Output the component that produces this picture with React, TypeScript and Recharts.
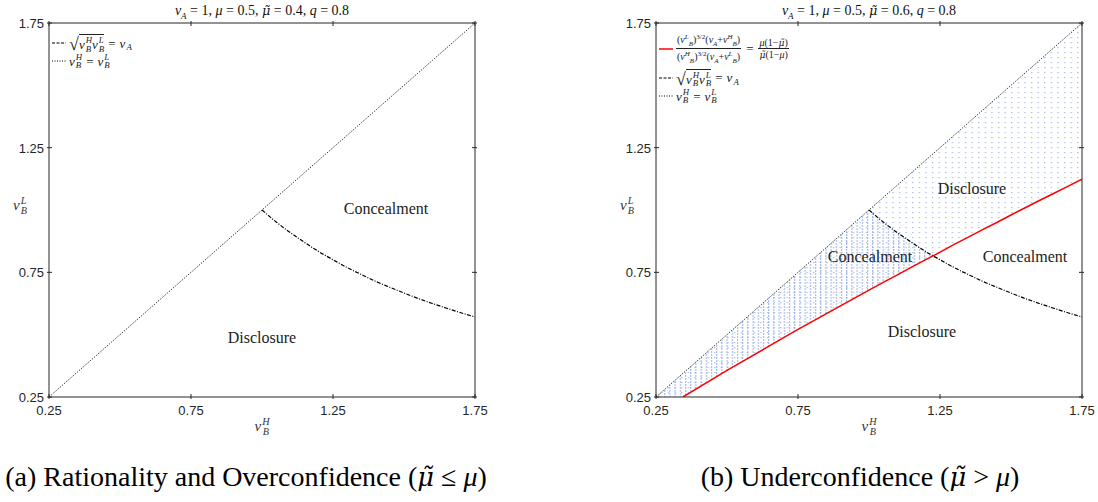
import React from "react";
import {
  Area,
  ComposedChart,
  Line,
  XAxis,
  YAxis,
} from "recharts";

// sample points along v_B^H
const hGrid = [
  0.25, 0.345, 0.5, 0.75, 1.0, 1.05, 1.1, 1.15, 1.2, 1.226, 1.3, 1.35, 1.4,
  1.45, 1.5, 1.55, 1.6, 1.65, 1.7, 1.75,
];
// v_B^H = v_B^L
const diagonal = [
  0.25, 0.345, 0.5, 0.75, 1.0, 1.05, 1.1, 1.15, 1.2, 1.226, 1.3, 1.35, 1.4,
  1.45, 1.5, 1.55, 1.6, 1.65, 1.7, 1.75,
];
// sqrt(v_B^H v_B^L) = v_A
const sqrtCurve = [
  null, null, null, null, 1.0, 0.952, 0.909, 0.87, 0.833, 0.816, 0.769, 0.741,
  0.714, 0.69, 0.667, 0.645, 0.625, 0.606, 0.588, 0.571,
];
// red boundary for panel (b)
const redBoundary = [
  null, 0.25, 0.357, 0.521, 0.679, 0.71, 0.74, 0.771, 0.801, 0.816, 0.862,
  0.891, 0.921, 0.95, 0.98, 1.009, 1.038, 1.066, 1.095, 1.124,
];

const ticks = [0.25, 0.75, 1.25, 1.75];
const AXIS = "#262626";
const MATH = "'Liberation Serif', 'DejaVu Serif', serif";

type Row = {
  h: number;
  diag: number;
  curve: number | null;
  red: number | null;
  shade: [number, number] | null;
  conceal: [number, number] | null;
};

const rows: Row[] = hGrid.map((h, i) => {
  const low = Math.max(0.25, redBoundary[i] ?? 0.25);
  const c = sqrtCurve[i];
  const top = c == null ? diagonal[i] : Math.min(diagonal[i], c);
  return {
    h,
    diag: diagonal[i],
    curve: c,
    red: redBoundary[i],
    shade: [low, diagonal[i]],
    conceal: h <= 1.226 ? [low, Math.max(low, top)] : null,
  };
});

const BottomTick = (p: any) => (
  <g>
    <line x1={p.x} y1={p.y} x2={p.x} y2={p.y - 5} stroke={AXIS} />
    <text
      x={p.x}
      y={p.y + 16}
      textAnchor="middle"
      fontSize={13}
      fontFamily="'Liberation Sans', Arial, sans-serif"
      fill={AXIS}
    >
      {p.payload.value.toFixed(2)}
    </text>
  </g>
);

const LeftTick = (p: any) => (
  <g>
    <line x1={p.x} y1={p.y} x2={p.x + 5} y2={p.y} stroke={AXIS} />
    <text
      x={p.x - 3}
      y={p.y + 5}
      textAnchor="end"
      fontSize={13}
      fontFamily="'Liberation Sans', Arial, sans-serif"
      fill={AXIS}
    >
      {p.payload.value.toFixed(2)}
    </text>
  </g>
);

const TopTick = (p: any) => (
  <line x1={p.x} y1={p.y} x2={p.x} y2={p.y + 5} stroke={AXIS} />
);
const RightTick = (p: any) => (
  <line x1={p.x} y1={p.y} x2={p.x - 5} y2={p.y} stroke={AXIS} />
);

// mu with a tilde accent (DejaVu places the combining mark properly)
function MuT() {
  return (
    <i style={{ fontFamily: "'DejaVu Serif', serif", fontSize: "0.92em" }}>
      {"\u03bc\u0303"}
    </i>
  );
}

function V({ base, sup, sub }: { base: string; sup?: string; sub?: string }) {
  return (
    <span style={{ display: "inline-flex", alignItems: "center", verticalAlign: "middle" }}>
      <i>{base}</i>
      <span
        style={{
          display: "inline-flex",
          flexDirection: "column",
          fontSize: "0.68em",
          lineHeight: 0.95,
          fontStyle: "italic",
          marginLeft: 1,
          marginTop: sup ? 0 : "0.9em",
        }}
      >
        {sup && <span>{sup}</span>}
        {sub && <span>{sub}</span>}
      </span>
    </span>
  );
}

function Sample({ color, dash, width = 1.2 }: { color: string; dash?: string; width?: number }) {
  return (
    <svg width={14} height={6} style={{ marginRight: 3, flex: "none" }}>
      <line x1={0} y1={3} x2={14} y2={3} stroke={color} strokeWidth={width} strokeDasharray={dash} />
    </svg>
  );
}

function SqrtItem() {
  return (
    <div style={{ display: "flex", alignItems: "center" }}>
      <Sample color="#000" dash="3 1.5" />
      <span style={{ fontSize: 18, lineHeight: 1, marginTop: 2 }}>√</span>
      <span style={{ borderTop: "1px solid #222", display: "inline-flex", paddingTop: 1, marginTop: 1 }}>
        <V base="v" sup="H" sub="B" />
        <V base="v" sup="L" sub="B" />
      </span>
      <span style={{ margin: "0 4px" }}>=</span>
      <V base="v" sub="A" />
    </div>
  );
}

function DiagItem() {
  return (
    <div style={{ display: "flex", alignItems: "center" }}>
      <Sample color="#000" dash="1 1.5" />
      <V base="v" sup="H" sub="B" />
      <span style={{ margin: "0 4px" }}>=</span>
      <V base="v" sup="L" sub="B" />
    </div>
  );
}

function Frac({ num, den }: { num: React.ReactNode; den: React.ReactNode }) {
  return (
    <span style={{ display: "inline-flex", flexDirection: "column", alignItems: "center", fontSize: 10, lineHeight: 1.15 }}>
      <span style={{ borderBottom: "1px solid #222", padding: "0 1px" }}>{num}</span>
      <span>{den}</span>
    </span>
  );
}

const s6 = { fontSize: 7 };

function RedItem() {
  return (
    <div style={{ display: "flex", alignItems: "center" }}>
      <Sample color="#ff0000" width={1.5} />
      <Frac
        num={
          <span>
            (<i>v</i><sup style={s6}><i>L</i></sup><sub style={s6}><i>B</i></sub>)<sup style={s6}>3/2</sup>(<i>v<sub style={s6}>A</sub></i>+<i>v</i><sup style={s6}><i>H</i></sup><sub style={s6}><i>B</i></sub>)
          </span>
        }
        den={
          <span>
            (<i>v</i><sup style={s6}><i>H</i></sup><sub style={s6}><i>B</i></sub>)<sup style={s6}>3/2</sup>(<i>v<sub style={s6}>A</sub></i>+<i>v</i><sup style={s6}><i>L</i></sup><sub style={s6}><i>B</i></sub>)
          </span>
        }
      />
      <span style={{ margin: "0 5px" }}>=</span>
      <Frac
        num={<span><i>μ</i>(1−<MuT />)</span>}
        den={<span><MuT />(1−<i>μ</i>)</span>}
      />
    </div>
  );
}

type PanelProps = {
  left: number;
  marginLeft: number;
  marginRight: number;
  muTilde: string;
  shaded: boolean;
  caption: React.ReactNode;
  labels: { text: string; x: number; y: number }[];
};

function Panel({ left, marginLeft, marginRight, muTilde, shaded, caption, labels }: PanelProps) {
  const width = 500;
  const plotCenter = marginLeft + (width - marginLeft - marginRight) / 2;
  return (
    <div style={{ position: "absolute", left, top: 0, width, height: 502 }}>
      <ComposedChart
        width={width}
        height={440}
        data={rows}
        margin={{ top: 22, right: marginRight - 1, bottom: 42, left: marginLeft - 1 }}
      >
        <defs>
          <pattern id={`dots-${left}`} width={6.6} height={5} patternUnits="userSpaceOnUse">
            <rect x={2} y={2} width={1.2} height={1.2} fill="#9db2ea" />
          </pattern>
          <pattern id={`vlines-${left}`} width={5.2} height={3} patternUnits="userSpaceOnUse">
            <rect x={2} y={0} width={0.8} height={2} fill="#809ade" />
          </pattern>
        </defs>
        <XAxis
          xAxisId="b"
          dataKey="h"
          type="number"
          domain={[0.25, 1.75]}
          ticks={ticks}
          height={1}
          tickSize={0}
          tickLine={false}
          axisLine={{ stroke: AXIS }}
          tick={BottomTick}
          allowDataOverflow
        />
        <XAxis
          xAxisId="t"
          orientation="top"
          dataKey="h"
          type="number"
          domain={[0.25, 1.75]}
          ticks={ticks}
          height={1}
          tickSize={0}
          tickLine={false}
          axisLine={{ stroke: AXIS }}
          tick={TopTick}
          allowDataOverflow
        />
        <YAxis
          yAxisId="l"
          type="number"
          domain={[0.25, 1.75]}
          ticks={ticks}
          width={1}
          tickSize={0}
          tickLine={false}
          axisLine={{ stroke: AXIS }}
          tick={LeftTick}
          allowDataOverflow
        />
        <YAxis
          yAxisId="r"
          orientation="right"
          type="number"
          domain={[0.25, 1.75]}
          ticks={ticks}
          width={1}
          tickSize={0}
          tickLine={false}
          axisLine={{ stroke: AXIS }}
          tick={RightTick}
          allowDataOverflow
        />
        {shaded && (
          <Area
            xAxisId="b"
            yAxisId="l"
            dataKey="shade"
            type="linear"
            stroke="none"
            fill={`url(#dots-${left})`}
            fillOpacity={1}
            isAnimationActive={false}
            dot={false}
            activeDot={false}
          />
        )}
        {shaded && (
          <Area
            xAxisId="b"
            yAxisId="l"
            dataKey="conceal"
            type="linear"
            stroke="none"
            fill={`url(#vlines-${left})`}
            fillOpacity={1}
            isAnimationActive={false}
            dot={false}
            activeDot={false}
          />
        )}
        <Line
          xAxisId="b"
          yAxisId="l"
          dataKey="diag"
          stroke="#000"
          strokeWidth={1}
          strokeDasharray="1 1.5"
          dot={false}
          activeDot={false}
          isAnimationActive={false}
        />
        <Line
          xAxisId="b"
          yAxisId="l"
          dataKey="curve"
          type="monotone"
          stroke="#000"
          strokeWidth={1.2}
          strokeDasharray="4 1.5 1 1.5"
          dot={false}
          activeDot={false}
          isAnimationActive={false}
        />
        {shaded && (
          <Line
            xAxisId="b"
            yAxisId="l"
            dataKey="red"
            stroke="#ff0000"
            strokeWidth={1.5}
            dot={false}
            activeDot={false}
            isAnimationActive={false}
          />
        )}
      </ComposedChart>

      {/* title */}
      <div
        style={{
          position: "absolute",
          top: 3,
          left: plotCenter - 150,
          width: 300,
          textAlign: "center",
          fontFamily: MATH,
          fontSize: 14,
          lineHeight: 1.1,
          whiteSpace: "nowrap",
          color: "#111",
        }}
      >
        <i>v</i><sub style={{ fontSize: 9, fontStyle: "italic", lineHeight: 0 }}>A</sub> = 1, <i>μ</i> = 0.5, <MuT /> = {muTilde}, <i>q</i> = 0.8
      </div>

      {/* axis labels */}
      <div
        style={{
          position: "absolute",
          top: 417,
          left: plotCenter - 20,
          width: 40,
          textAlign: "center",
          fontFamily: MATH,
          fontSize: 15,
          color: "#333",
        }}
      >
        <V base="v" sup="H" sub="B" />
      </div>
      <div
        style={{
          position: "absolute",
          top: 196,
          left: marginLeft - 36,
          fontFamily: MATH,
          fontSize: 15,
          color: "#333",
        }}
      >
        <V base="v" sup="L" sub="B" />
      </div>

      {/* legend */}
      <div
        style={{
          position: "absolute",
          top: 33,
          left: marginLeft + 3,
          fontFamily: MATH,
          fontSize: 13,
          color: "#222",
          lineHeight: 1,
        }}
      >
        {shaded && <RedItem />}
        <div style={{ height: shaded ? 3 : 0 }} />
        <SqrtItem />
        <DiagItem />
      </div>

      {/* region labels */}
      {labels.map((l, i) => (
        <div
          key={i}
          style={{
            position: "absolute",
            left: l.x - left - 60,
            top: l.y - 10,
            width: 120,
            textAlign: "center",
            fontFamily: "'Liberation Serif', serif",
            fontSize: 16,
            color: "#222",
          }}
        >
          {l.text}
        </div>
      ))}

      {/* caption */}
      <div
        style={{
          position: "absolute",
          top: 460,
          left: -20,
          width: 540,
          textAlign: "center",
          fontFamily: "'Liberation Serif', serif",
          fontSize: 28,
          lineHeight: 1.2,
          color: "#000",
          whiteSpace: "nowrap",
        }}
      >
        {caption}
      </div>
    </div>
  );
}

export default function App() {
  return (
    <div
      style={{
        position: "absolute",
        left: 0,
        top: 0,
        width: 1098,
        height: 502,
        background: "#fff",
        overflow: "hidden",
      }}
    >
      <Panel
        left={0}
        marginLeft={49}
        marginRight={25}
        muTilde="0.4"
        shaded={false}
        caption={
          <span style={{ marginRight: 8 }}>
            (a) Rationality and Overconfidence (<MuT /> ≤ <i>μ</i>)
          </span>
        }
        labels={[
          { text: "Concealment", x: 386, y: 210 },
          { text: "Disclosure", x: 262, y: 339 },
        ]}
      />
      <Panel
        left={600}
        marginLeft={56}
        marginRight={18}
        muTilde="0.6"
        shaded
        caption={
          <span style={{ marginLeft: 20 }}>
            (b) Underconfidence (<MuT /> &gt; <i>μ</i>)
          </span>
        }
        labels={[
          { text: "Disclosure", x: 972, y: 190 },
          { text: "Concealment", x: 870, y: 258 },
          { text: "Concealment", x: 1025, y: 258 },
          { text: "Disclosure", x: 922, y: 333 },
        ]}
      />
    </div>
  );
}
